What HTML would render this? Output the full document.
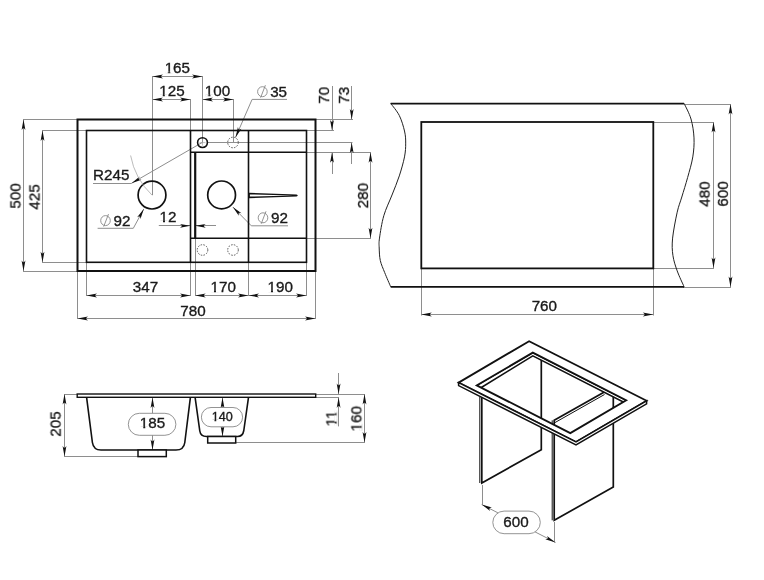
<!DOCTYPE html>
<html><head><meta charset="utf-8"><style>
html,body{margin:0;padding:0;background:#fff;}
svg{display:block;font-family:"Liberation Sans",sans-serif;-webkit-font-smoothing:antialiased;}
text{will-change:transform;}
</style></head><body>
<svg width="764" height="580" viewBox="0 0 764 580">
<rect width="764" height="580" fill="#fff"/>
<line x1="23" y1="119.5" x2="77" y2="119.5" stroke="#8e8e8e" stroke-width="1" />
<line x1="23" y1="271.5" x2="77" y2="271.5" stroke="#8e8e8e" stroke-width="1" />
<line x1="42" y1="130.5" x2="86" y2="130.5" stroke="#8e8e8e" stroke-width="1" />
<line x1="42" y1="262.5" x2="86" y2="262.5" stroke="#8e8e8e" stroke-width="1" />
<line x1="152.5" y1="76" x2="152.5" y2="195.2" stroke="#8e8e8e" stroke-width="1" />
<line x1="202.5" y1="76" x2="202.5" y2="142.5" stroke="#8e8e8e" stroke-width="1" />
<line x1="190.5" y1="99" x2="190.5" y2="130.5" stroke="#8e8e8e" stroke-width="1" />
<line x1="233.5" y1="99" x2="233.5" y2="142.6" stroke="#8e8e8e" stroke-width="1" />
<line x1="315.5" y1="119.5" x2="353" y2="119.5" stroke="#8e8e8e" stroke-width="1" />
<line x1="306.5" y1="130.5" x2="334" y2="130.5" stroke="#8e8e8e" stroke-width="1" />
<line x1="208" y1="142.5" x2="352.5" y2="142.5" stroke="#8e8e8e" stroke-width="1" />
<line x1="306.5" y1="152.5" x2="371" y2="152.5" stroke="#8e8e8e" stroke-width="1" />
<line x1="306.5" y1="238.5" x2="371" y2="238.5" stroke="#8e8e8e" stroke-width="1" />
<line x1="332.5" y1="86" x2="332.5" y2="130.5" stroke="#8e8e8e" stroke-width="1" />
<line x1="332.5" y1="152.3" x2="332.5" y2="174" stroke="#8e8e8e" stroke-width="1" />
<line x1="351.5" y1="86" x2="351.5" y2="119.5" stroke="#8e8e8e" stroke-width="1" />
<line x1="351.5" y1="142.5" x2="351.5" y2="164" stroke="#8e8e8e" stroke-width="1" />
<line x1="86.5" y1="262.3" x2="86.5" y2="296" stroke="#8e8e8e" stroke-width="1" />
<line x1="190.5" y1="262.3" x2="190.5" y2="296" stroke="#8e8e8e" stroke-width="1" />
<line x1="248.5" y1="262.3" x2="248.5" y2="296" stroke="#8e8e8e" stroke-width="1" />
<line x1="306.5" y1="262.3" x2="306.5" y2="296" stroke="#8e8e8e" stroke-width="1" />
<line x1="195.5" y1="238.2" x2="195.5" y2="296" stroke="#8e8e8e" stroke-width="1" />
<line x1="77.5" y1="271" x2="77.5" y2="319" stroke="#8e8e8e" stroke-width="1" />
<line x1="315.5" y1="271" x2="315.5" y2="319" stroke="#8e8e8e" stroke-width="1" />
<line x1="23.5" y1="119.5" x2="23.5" y2="271" stroke="#8e8e8e" stroke-width="1" />
<line x1="42.5" y1="130.5" x2="42.5" y2="262.3" stroke="#8e8e8e" stroke-width="1" />
<line x1="152.5" y1="76.5" x2="202.5" y2="76.5" stroke="#8e8e8e" stroke-width="1" />
<line x1="152.5" y1="99.5" x2="190.5" y2="99.5" stroke="#8e8e8e" stroke-width="1" />
<line x1="202.5" y1="99.5" x2="233.5" y2="99.5" stroke="#8e8e8e" stroke-width="1" />
<line x1="370.5" y1="152.3" x2="370.5" y2="238.2" stroke="#8e8e8e" stroke-width="1" />
<line x1="86.5" y1="295.5" x2="190.5" y2="295.5" stroke="#8e8e8e" stroke-width="1" />
<line x1="195.2" y1="295.5" x2="248.5" y2="295.5" stroke="#8e8e8e" stroke-width="1" />
<line x1="248.5" y1="295.5" x2="306.5" y2="295.5" stroke="#8e8e8e" stroke-width="1" />
<line x1="77.5" y1="318.5" x2="315.5" y2="318.5" stroke="#8e8e8e" stroke-width="1" />
<line x1="158.8" y1="225.5" x2="190.5" y2="225.5" stroke="#8e8e8e" stroke-width="1" />
<line x1="195.2" y1="225.5" x2="216" y2="225.5" stroke="#8e8e8e" stroke-width="1" />
<line x1="202" y1="142.6" x2="131.5" y2="183.3" stroke="#8e8e8e" stroke-width="1" />
<line x1="93" y1="183.5" x2="131.5" y2="183.5" stroke="#8e8e8e" stroke-width="1" />
<polyline points="97.6,228.3 133.3,228.3 143.8,208.9" stroke="#8e8e8e" stroke-width="1" fill="none" />
<polyline points="288,225.8 251.3,225.8 232.8,207" stroke="#8e8e8e" stroke-width="1" fill="none" />
<polyline points="287,99.4 252.1,99.4 235.5,137.5" stroke="#8e8e8e" stroke-width="1" fill="none" />
<line x1="684" y1="104.5" x2="731" y2="104.5" stroke="#8e8e8e" stroke-width="1" />
<line x1="683" y1="287.5" x2="731" y2="287.5" stroke="#8e8e8e" stroke-width="1" />
<line x1="653.3" y1="122.5" x2="714" y2="122.5" stroke="#8e8e8e" stroke-width="1" />
<line x1="653.3" y1="268.5" x2="714" y2="268.5" stroke="#8e8e8e" stroke-width="1" />
<line x1="421.5" y1="268" x2="421.5" y2="315.5" stroke="#8e8e8e" stroke-width="1" />
<line x1="653.5" y1="268" x2="653.5" y2="315.5" stroke="#8e8e8e" stroke-width="1" />
<line x1="713.5" y1="122" x2="713.5" y2="268" stroke="#8e8e8e" stroke-width="1" />
<line x1="730.5" y1="104" x2="730.5" y2="287" stroke="#8e8e8e" stroke-width="1" />
<line x1="421.3" y1="314.5" x2="653.3" y2="314.5" stroke="#8e8e8e" stroke-width="1" />
<line x1="64" y1="394.5" x2="77" y2="394.5" stroke="#8e8e8e" stroke-width="1" />
<line x1="64" y1="456.5" x2="138" y2="456.5" stroke="#8e8e8e" stroke-width="1" />
<line x1="64.5" y1="394" x2="64.5" y2="456.4" stroke="#8e8e8e" stroke-width="1" />
<line x1="152.5" y1="397.6" x2="152.5" y2="450" stroke="#8e8e8e" stroke-width="1" />
<line x1="222.5" y1="397.6" x2="222.5" y2="436.5" stroke="#8e8e8e" stroke-width="1" />
<line x1="316" y1="394.5" x2="365" y2="394.5" stroke="#8e8e8e" stroke-width="1" />
<line x1="316" y1="397.5" x2="339" y2="397.5" stroke="#8e8e8e" stroke-width="1" />
<line x1="236" y1="442.5" x2="365" y2="442.5" stroke="#8e8e8e" stroke-width="1" />
<line x1="338.5" y1="373" x2="338.5" y2="394" stroke="#8e8e8e" stroke-width="1" />
<line x1="338.5" y1="397.4" x2="338.5" y2="426.4" stroke="#8e8e8e" stroke-width="1" />
<line x1="364.5" y1="394" x2="364.5" y2="442.4" stroke="#8e8e8e" stroke-width="1" />
<line x1="482.5" y1="485" x2="482.5" y2="504.5" stroke="#8e8e8e" stroke-width="1" />
<line x1="554.5" y1="522" x2="554.5" y2="542.4" stroke="#8e8e8e" stroke-width="1" />
<line x1="481.7" y1="504.5" x2="555.5" y2="542.4" stroke="#8e8e8e" stroke-width="1" />
<rect x="77.5" y="119.5" width="238" height="151.5" fill="none" stroke="#111" stroke-width="2"/>
<rect x="86.5" y="130.5" width="220" height="131.8" fill="none" stroke="#111" stroke-width="1.6"/>
<line x1="190.5" y1="130.5" x2="190.5" y2="262.3" stroke="#111" stroke-width="1.6" />
<line x1="248.5" y1="130.5" x2="248.5" y2="262.3" stroke="#111" stroke-width="1.6" />
<line x1="190.5" y1="152.3" x2="306.5" y2="152.3" stroke="#111" stroke-width="1.6" />
<line x1="190.5" y1="238.2" x2="306.5" y2="238.2" stroke="#111" stroke-width="1.6" />
<line x1="195.2" y1="152.3" x2="195.2" y2="238.2" stroke="#111" stroke-width="2.2" />
<circle cx="152" cy="195.1" r="13.9" stroke="#111" stroke-width="1.7" fill="none" />
<circle cx="221.6" cy="194.9" r="13.9" stroke="#111" stroke-width="1.7" fill="none" />
<circle cx="202.5" cy="142.6" r="4.9" stroke="#111" stroke-width="1.6" fill="none" />
<line x1="199.5" y1="142.6" x2="205.5" y2="142.6" stroke="#999" stroke-width="0.6" />
<line x1="202.5" y1="139.6" x2="202.5" y2="145.6" stroke="#999" stroke-width="0.6" />
<circle cx="233" cy="142.5" r="5.3" stroke="#555" stroke-width="1" fill="none" stroke-dasharray="1.5,1.3"/>
<circle cx="202.5" cy="250" r="5.3" stroke="#555" stroke-width="1" fill="none" stroke-dasharray="1.5,1.3"/>
<circle cx="233" cy="250" r="5.3" stroke="#555" stroke-width="1" fill="none" stroke-dasharray="1.5,1.3"/>
<path d="M249,192.8 L296.5,194.4 Q299,195.5 296.5,196.6 L249,198.2 Z" fill="#111"/>
<path d="M249.9,194.4 L293,195.5 L249.9,196.6 Z" fill="#fff"/>
<polygon points="332.00,130.50 330.10,120.00 331.50,121.80 332.50,121.80 333.90,120.00" fill="#111"/>
<polygon points="332.00,152.30 333.90,162.80 332.50,161.00 331.50,161.00 330.10,162.80" fill="#111"/>
<polygon points="351.70,119.50 349.80,109.00 351.20,110.80 352.20,110.80 353.60,109.00" fill="#111"/>
<polygon points="351.70,142.50 353.60,153.00 352.20,151.20 351.20,151.20 349.80,153.00" fill="#111"/>
<polygon points="23.50,119.50 25.40,130.00 24.00,128.20 23.00,128.20 21.60,130.00" fill="#111"/>
<polygon points="23.50,271.00 21.60,260.50 23.00,262.30 24.00,262.30 25.40,260.50" fill="#111"/>
<polygon points="42.50,130.50 44.40,141.00 43.00,139.20 42.00,139.20 40.60,141.00" fill="#111"/>
<polygon points="42.50,262.30 40.60,251.80 42.00,253.60 43.00,253.60 44.40,251.80" fill="#111"/>
<polygon points="152.50,76.50 163.00,74.60 161.20,76.00 161.20,77.00 163.00,78.40" fill="#111"/>
<polygon points="202.50,76.50 192.00,78.40 193.80,77.00 193.80,76.00 192.00,74.60" fill="#111"/>
<polygon points="152.50,99.50 163.00,97.60 161.20,99.00 161.20,100.00 163.00,101.40" fill="#111"/>
<polygon points="190.50,99.50 180.00,101.40 181.80,100.00 181.80,99.00 180.00,97.60" fill="#111"/>
<polygon points="202.50,99.50 213.00,97.60 211.20,99.00 211.20,100.00 213.00,101.40" fill="#111"/>
<polygon points="233.50,99.50 223.00,101.40 224.80,100.00 224.80,99.00 223.00,97.60" fill="#111"/>
<polygon points="370.50,152.30 372.40,162.80 371.00,161.00 370.00,161.00 368.60,162.80" fill="#111"/>
<polygon points="370.50,238.20 368.60,227.70 370.00,229.50 371.00,229.50 372.40,227.70" fill="#111"/>
<polygon points="86.50,295.50 97.00,293.60 95.20,295.00 95.20,296.00 97.00,297.40" fill="#111"/>
<polygon points="190.50,295.50 180.00,297.40 181.80,296.00 181.80,295.00 180.00,293.60" fill="#111"/>
<polygon points="195.20,295.50 205.70,293.60 203.90,295.00 203.90,296.00 205.70,297.40" fill="#111"/>
<polygon points="248.50,295.50 238.00,297.40 239.80,296.00 239.80,295.00 238.00,293.60" fill="#111"/>
<polygon points="248.50,295.50 259.00,293.60 257.20,295.00 257.20,296.00 259.00,297.40" fill="#111"/>
<polygon points="306.50,295.50 296.00,297.40 297.80,296.00 297.80,295.00 296.00,293.60" fill="#111"/>
<polygon points="77.50,318.50 88.00,316.60 86.20,318.00 86.20,319.00 88.00,320.40" fill="#111"/>
<polygon points="315.50,318.50 305.00,320.40 306.80,319.00 306.80,318.00 305.00,316.60" fill="#111"/>
<polygon points="190.50,225.80 180.00,227.70 181.80,226.30 181.80,225.30 180.00,223.90" fill="#111"/>
<polygon points="195.20,225.80 205.70,223.90 203.90,225.30 203.90,226.30 205.70,227.70" fill="#111"/>
<polygon points="131.50,183.30 139.64,176.40 138.78,178.52 139.28,179.38 141.54,179.70" fill="#111"/>
<path d="M130.6,155.5 A73.2,73.2 0 0 0 152,195.1" stroke="#aaa" stroke-width="0.8" fill="none"/>
<polygon points="143.80,208.90 140.47,219.04 140.10,216.79 139.22,216.31 137.13,217.23" fill="#111"/>
<polygon points="232.80,207.00 241.52,213.15 239.26,212.85 238.55,213.55 238.81,215.82" fill="#111"/>
<polygon points="235.50,137.50 237.95,127.12 238.52,129.32 239.43,129.72 241.44,128.63" fill="#111"/>
<g transform="translate(177.3,73) scale(1.0,1.0)"><text x="0" y="0" text-anchor="middle" font-size="15.2" fill="#1a1a1a" stroke="#1a1a1a" stroke-width="0.35">165</text><rect x="-12.68" y="-2.02" width="3.45" height="2.82" fill="#fff"/><rect x="-7.22" y="-2.02" width="3.34" height="2.82" fill="#fff"/></g>
<g transform="translate(172,96.3) scale(1.0,1.0)"><text x="0" y="0" text-anchor="middle" font-size="15.2" fill="#1a1a1a" stroke="#1a1a1a" stroke-width="0.35">125</text><rect x="-12.68" y="-2.02" width="3.45" height="2.82" fill="#fff"/><rect x="-7.22" y="-2.02" width="3.34" height="2.82" fill="#fff"/></g>
<g transform="translate(217.5,96.3) scale(1.0,1.0)"><text x="0" y="0" text-anchor="middle" font-size="15.2" fill="#1a1a1a" stroke="#1a1a1a" stroke-width="0.35">100</text><rect x="-12.68" y="-2.02" width="3.45" height="2.82" fill="#fff"/><rect x="-7.22" y="-2.02" width="3.34" height="2.82" fill="#fff"/></g>
<g transform="translate(111.2,179.8) scale(1.0,1.0)"><text x="0" y="0" text-anchor="middle" font-size="15.2" fill="#1a1a1a" stroke="#1a1a1a" stroke-width="0.35">R245</text></g>
<g transform="translate(172,96.3) scale(1.0,1.0)"><text x="0" y="0" text-anchor="middle" font-size="15.2" fill="#1a1a1a" stroke="#1a1a1a" stroke-width="0.35"></text></g>
<g transform="translate(168,222.4) scale(1.0,1.0)"><text x="0" y="0" text-anchor="middle" font-size="15.2" fill="#1a1a1a" stroke="#1a1a1a" stroke-width="0.35">12</text><rect x="-8.45" y="-2.02" width="3.45" height="2.82" fill="#fff"/><rect x="-2.99" y="-2.02" width="3.34" height="2.82" fill="#fff"/></g>
<g transform="translate(201.5,292) scale(1.0,1.0)"><text x="0" y="0" text-anchor="middle" font-size="15.2" fill="#1a1a1a" stroke="#1a1a1a" stroke-width="0.35"></text></g>
<g transform="translate(145.5,291.9) scale(1.0,1.0)"><text x="0" y="0" text-anchor="middle" font-size="15.2" fill="#1a1a1a" stroke="#1a1a1a" stroke-width="0.35">347</text></g>
<g transform="translate(223.2,292) scale(1.0,1.0)"><text x="0" y="0" text-anchor="middle" font-size="15.2" fill="#1a1a1a" stroke="#1a1a1a" stroke-width="0.35">170</text><rect x="-12.68" y="-2.02" width="3.45" height="2.82" fill="#fff"/><rect x="-7.22" y="-2.02" width="3.34" height="2.82" fill="#fff"/></g>
<g transform="translate(280.2,292) scale(1.0,1.0)"><text x="0" y="0" text-anchor="middle" font-size="15.2" fill="#1a1a1a" stroke="#1a1a1a" stroke-width="0.35">190</text><rect x="-12.68" y="-2.02" width="3.45" height="2.82" fill="#fff"/><rect x="-7.22" y="-2.02" width="3.34" height="2.82" fill="#fff"/></g>
<g transform="translate(193,315.7) scale(1.0,1.0)"><text x="0" y="0" text-anchor="middle" font-size="15.2" fill="#1a1a1a" stroke="#1a1a1a" stroke-width="0.35">780</text></g>
<g transform="translate(20.5,195.9) rotate(-90) scale(1.0,1.0)"><text x="0" y="0" text-anchor="middle" font-size="15.2" fill="#1a1a1a" stroke="#1a1a1a" stroke-width="0.35">500</text></g>
<g transform="translate(39.5,196.9) rotate(-90) scale(1.0,1.0)"><text x="0" y="0" text-anchor="middle" font-size="15.2" fill="#1a1a1a" stroke="#1a1a1a" stroke-width="0.35">425</text></g>
<g transform="translate(329,95.3) rotate(-90) scale(1.0,1.0)"><text x="0" y="0" text-anchor="middle" font-size="15.2" fill="#1a1a1a" stroke="#1a1a1a" stroke-width="0.35">70</text></g>
<g transform="translate(349,95.3) rotate(-90) scale(1.0,1.0)"><text x="0" y="0" text-anchor="middle" font-size="15.2" fill="#1a1a1a" stroke="#1a1a1a" stroke-width="0.35">73</text></g>
<g transform="translate(368,195.6) rotate(-90) scale(1.0,1.0)"><text x="0" y="0" text-anchor="middle" font-size="15.2" fill="#1a1a1a" stroke="#1a1a1a" stroke-width="0.35">280</text></g>
<ellipse cx="262.4" cy="91.7" rx="4.8" ry="5" fill="none" stroke="#888" stroke-width="0.9"/>
<line x1="265.4" y1="85.2" x2="260.59999999999997" y2="97.7" stroke="#888" stroke-width="0.9"/>
<g transform="translate(278.6,96.5) scale(1.0,1.0)"><text x="0" y="0" text-anchor="middle" font-size="15.2" fill="#1a1a1a" stroke="#1a1a1a" stroke-width="0.35">35</text></g>
<ellipse cx="105.5" cy="220.6" rx="4.8" ry="5" fill="none" stroke="#888" stroke-width="0.9"/>
<line x1="108.5" y1="214.1" x2="103.7" y2="226.6" stroke="#888" stroke-width="0.9"/>
<g transform="translate(121.9,225.7) scale(1.0,1.0)"><text x="0" y="0" text-anchor="middle" font-size="15.2" fill="#1a1a1a" stroke="#1a1a1a" stroke-width="0.35">92</text></g>
<ellipse cx="263" cy="217.8" rx="4.8" ry="5" fill="none" stroke="#888" stroke-width="0.9"/>
<line x1="266" y1="211.3" x2="261.2" y2="223.8" stroke="#888" stroke-width="0.9"/>
<g transform="translate(279.5,222.9) scale(1.0,1.0)"><text x="0" y="0" text-anchor="middle" font-size="15.2" fill="#1a1a1a" stroke="#1a1a1a" stroke-width="0.35">92</text></g>
<line x1="390.7" y1="103.6" x2="684.1" y2="103.6" stroke="#111" stroke-width="1.8" />
<line x1="390.7" y1="286.8" x2="684.1" y2="286.8" stroke="#111" stroke-width="1.8" />
<path d="M390.7,103.4 C392.13,105.42 397.00,110.90 399.3,115.5 C401.60,120.10 403.43,126.40 404.5,131 C405.57,135.60 405.70,138.78 405.7,143.1 C405.70,147.42 405.57,151.43 404.5,156.9 C403.43,162.37 401.38,169.55 399.3,175.9 C397.22,182.25 394.58,188.37 392,195 C389.42,201.63 385.88,208.52 383.8,215.7 C381.72,222.88 380.27,232.72 379.5,238.1 C378.73,243.48 379.07,244.27 379.2,248 C379.33,251.73 379.38,256.40 380.3,260.5 C381.22,264.60 382.97,268.22 384.7,272.6 C386.43,276.98 389.70,284.43 390.7,286.8" stroke="#222" stroke-width="1" fill="none"/>
<path d="M684.1,103.4 C685.25,106.00 689.35,113.25 691,119 C692.65,124.75 693.70,131.58 694,137.9 C694.30,144.22 693.87,150.28 692.8,156.9 C691.73,163.52 689.43,170.92 687.6,177.6 C685.77,184.28 683.53,191.23 681.8,197 C680.07,202.77 678.73,205.35 677.2,212.2 C675.67,219.05 673.32,230.92 672.6,238.1 C671.88,245.28 672.13,249.83 672.9,255.3 C673.67,260.77 675.33,265.65 677.2,270.9 C679.07,276.15 682.95,284.15 684.1,286.8" stroke="#222" stroke-width="1" fill="none"/>
<rect x="421.3" y="122" width="232" height="146.4" fill="none" stroke="#111" stroke-width="1.8"/>
<polygon points="713.50,122.00 715.40,132.50 714.00,130.70 713.00,130.70 711.60,132.50" fill="#111"/>
<polygon points="713.50,268.00 711.60,257.50 713.00,259.30 714.00,259.30 715.40,257.50" fill="#111"/>
<polygon points="730.50,104.00 732.40,114.50 731.00,112.70 730.00,112.70 728.60,114.50" fill="#111"/>
<polygon points="730.50,287.00 728.60,276.50 730.00,278.30 731.00,278.30 732.40,276.50" fill="#111"/>
<polygon points="421.30,314.50 431.80,312.60 430.00,314.00 430.00,315.00 431.80,316.40" fill="#111"/>
<polygon points="653.30,314.50 642.80,316.40 644.60,315.00 644.60,314.00 642.80,312.60" fill="#111"/>
<g transform="translate(709.6,194.1) rotate(-90) scale(1.0,1.0)"><text x="0" y="0" text-anchor="middle" font-size="15.2" fill="#1a1a1a" stroke="#1a1a1a" stroke-width="0.35">480</text></g>
<g transform="translate(727.9,193.9) rotate(-90) scale(1.0,1.0)"><text x="0" y="0" text-anchor="middle" font-size="15.2" fill="#1a1a1a" stroke="#1a1a1a" stroke-width="0.35">600</text></g>
<g transform="translate(544.3,311.2) scale(1.0,1.0)"><text x="0" y="0" text-anchor="middle" font-size="15.2" fill="#1a1a1a" stroke="#1a1a1a" stroke-width="0.35">760</text></g>
<rect x="77.2" y="394" width="238.5" height="3.3" fill="#fff" stroke="#111" stroke-width="1.4"/>
<path d="M86.6,397.4 L92.4,442.5 Q93.5,450 101,450 L176,450 Q183.8,450 184.8,442.5 L190.4,397.4" fill="none" stroke="#111" stroke-width="1.6"/>
<rect x="138" y="450" width="28.3" height="6.6" fill="#fff" stroke="#111" stroke-width="1.5"/>
<path d="M195.1,397.4 L199.8,431 Q200.6,436.5 206.5,436.5 L237.5,436.5 Q242.8,436.5 243.8,430.5 L248.5,397.4" fill="none" stroke="#111" stroke-width="1.6"/>
<rect x="207.7" y="436.5" width="28" height="6.5" fill="#fff" stroke="#111" stroke-width="1.5"/>
<polygon points="64.50,394.00 66.40,404.50 65.00,402.70 64.00,402.70 62.60,404.50" fill="#111"/>
<polygon points="64.50,456.40 62.60,445.90 64.00,447.70 65.00,447.70 66.40,445.90" fill="#111"/>
<g transform="translate(60.6,424) rotate(-90) scale(1.0,1.0)"><text x="0" y="0" text-anchor="middle" font-size="15.2" fill="#1a1a1a" stroke="#1a1a1a" stroke-width="0.35">205</text></g>
<polygon points="152.50,397.60 154.40,408.10 153.00,406.30 152.00,406.30 150.60,408.10" fill="#111"/>
<polygon points="152.50,450.00 150.60,439.50 152.00,441.30 153.00,441.30 154.40,439.50" fill="#111"/>
<rect x="128.3" y="413.3" width="47.6" height="22" rx="11" fill="#fff" stroke="#888" stroke-width="0.9"/>
<g transform="translate(152.5,428.4) scale(1.0,1.0)"><text x="0" y="0" text-anchor="middle" font-size="15.2" fill="#1a1a1a" stroke="#1a1a1a" stroke-width="0.35">185</text><rect x="-12.68" y="-2.02" width="3.45" height="2.82" fill="#fff"/><rect x="-7.22" y="-2.02" width="3.34" height="2.82" fill="#fff"/></g>
<polygon points="222.50,397.60 224.40,408.10 223.00,406.30 222.00,406.30 220.60,408.10" fill="#111"/>
<polygon points="222.50,436.50 220.60,426.00 222.00,427.80 223.00,427.80 224.40,426.00" fill="#111"/>
<rect x="201.4" y="407.5" width="41.2" height="19.3" rx="9.6" fill="#fff" stroke="#888" stroke-width="0.9"/>
<g transform="translate(222.2,421.4) scale(1.0,1.0)"><text x="0" y="0" text-anchor="middle" font-size="12.6" fill="#1a1a1a" stroke="#1a1a1a" stroke-width="0.35">140</text><rect x="-10.71" y="-1.76" width="3.00" height="2.56" fill="#fff"/><rect x="-5.92" y="-1.76" width="2.92" height="2.56" fill="#fff"/></g>
<polygon points="338.60,394.00 336.70,383.50 338.10,385.30 339.10,385.30 340.50,383.50" fill="#111"/>
<polygon points="338.60,397.40 340.50,407.90 339.10,406.10 338.10,406.10 336.70,407.90" fill="#111"/>
<polygon points="364.50,394.00 366.40,404.50 365.00,402.70 364.00,402.70 362.60,404.50" fill="#111"/>
<polygon points="364.50,442.40 362.60,431.90 364.00,433.70 365.00,433.70 366.40,431.90" fill="#111"/>
<g transform="translate(336.4,418.6) rotate(-90) scale(1.0,1.0)"><text x="0" y="0" text-anchor="middle" font-size="15.2" fill="#1a1a1a" stroke="#1a1a1a" stroke-width="0.35">11</text><rect x="-8.45" y="-2.02" width="3.45" height="2.82" fill="#fff"/><rect x="-2.99" y="-2.02" width="3.34" height="2.82" fill="#fff"/><rect x="0.00" y="-2.02" width="3.45" height="2.82" fill="#fff"/><rect x="5.46" y="-2.02" width="3.34" height="2.82" fill="#fff"/></g>
<g transform="translate(361.4,418.7) rotate(-90) scale(1.0,1.0)"><text x="0" y="0" text-anchor="middle" font-size="15.2" fill="#1a1a1a" stroke="#1a1a1a" stroke-width="0.35">160</text><rect x="-12.68" y="-2.02" width="3.45" height="2.82" fill="#fff"/><rect x="-7.22" y="-2.02" width="3.34" height="2.82" fill="#fff"/></g>
<polygon points="481.8,384 481.8,483 541.3,449.7 541.3,350" stroke="#111" stroke-width="1.7" fill="#fff" />
<line x1="479.8" y1="397" x2="479.8" y2="483" stroke="#111" stroke-width="1" />
<polygon points="554.2,420.3 554.2,520.3 613.3,487 613.3,387" stroke="#111" stroke-width="1.7" fill="#fff" />
<line x1="552.2" y1="420.3" x2="552.2" y2="520.3" stroke="#111" stroke-width="1" />
<line x1="554.2" y1="423" x2="604.5" y2="394.5" stroke="#111" stroke-width="1" />
<polygon points="476.7,385.4 532.8,352.6 626.2,400.3 626.2,403.5 532.8,355.9 480.5,388" stroke="#111" stroke-width="1.5" fill="#fff" />
<path d="M458.6,382.6 L529.1,341.2 L646.6,400.8 L576,442 Z M476.7,385.4 L570.3,433.1 L626.2,400.3 L532.8,352.6 Z" fill="#fff" fill-rule="evenodd" stroke="#111" stroke-width="1.8" stroke-linejoin="miter"/>
<polygon points="458.6,382.6 576,442 646.6,400.8 646.6,403.8 576,445 458.6,385.6" stroke="#111" stroke-width="1.5" fill="#fff" />
<polygon points="481.70,504.50 491.91,507.61 489.67,508.03 489.21,508.92 490.17,510.99" fill="#111"/>
<polygon points="555.50,542.40 545.29,539.29 547.53,538.87 547.99,537.98 547.03,535.91" fill="#111"/>
<rect x="492.8" y="511.1" width="47.5" height="22.6" rx="11.3" fill="#fff" stroke="#888" stroke-width="0.9"/>
<g transform="translate(516,527.2) scale(1.0,1.0)"><text x="0" y="0" text-anchor="middle" font-size="15.2" fill="#1a1a1a" stroke="#1a1a1a" stroke-width="0.35">600</text></g>
</svg></body></html>
